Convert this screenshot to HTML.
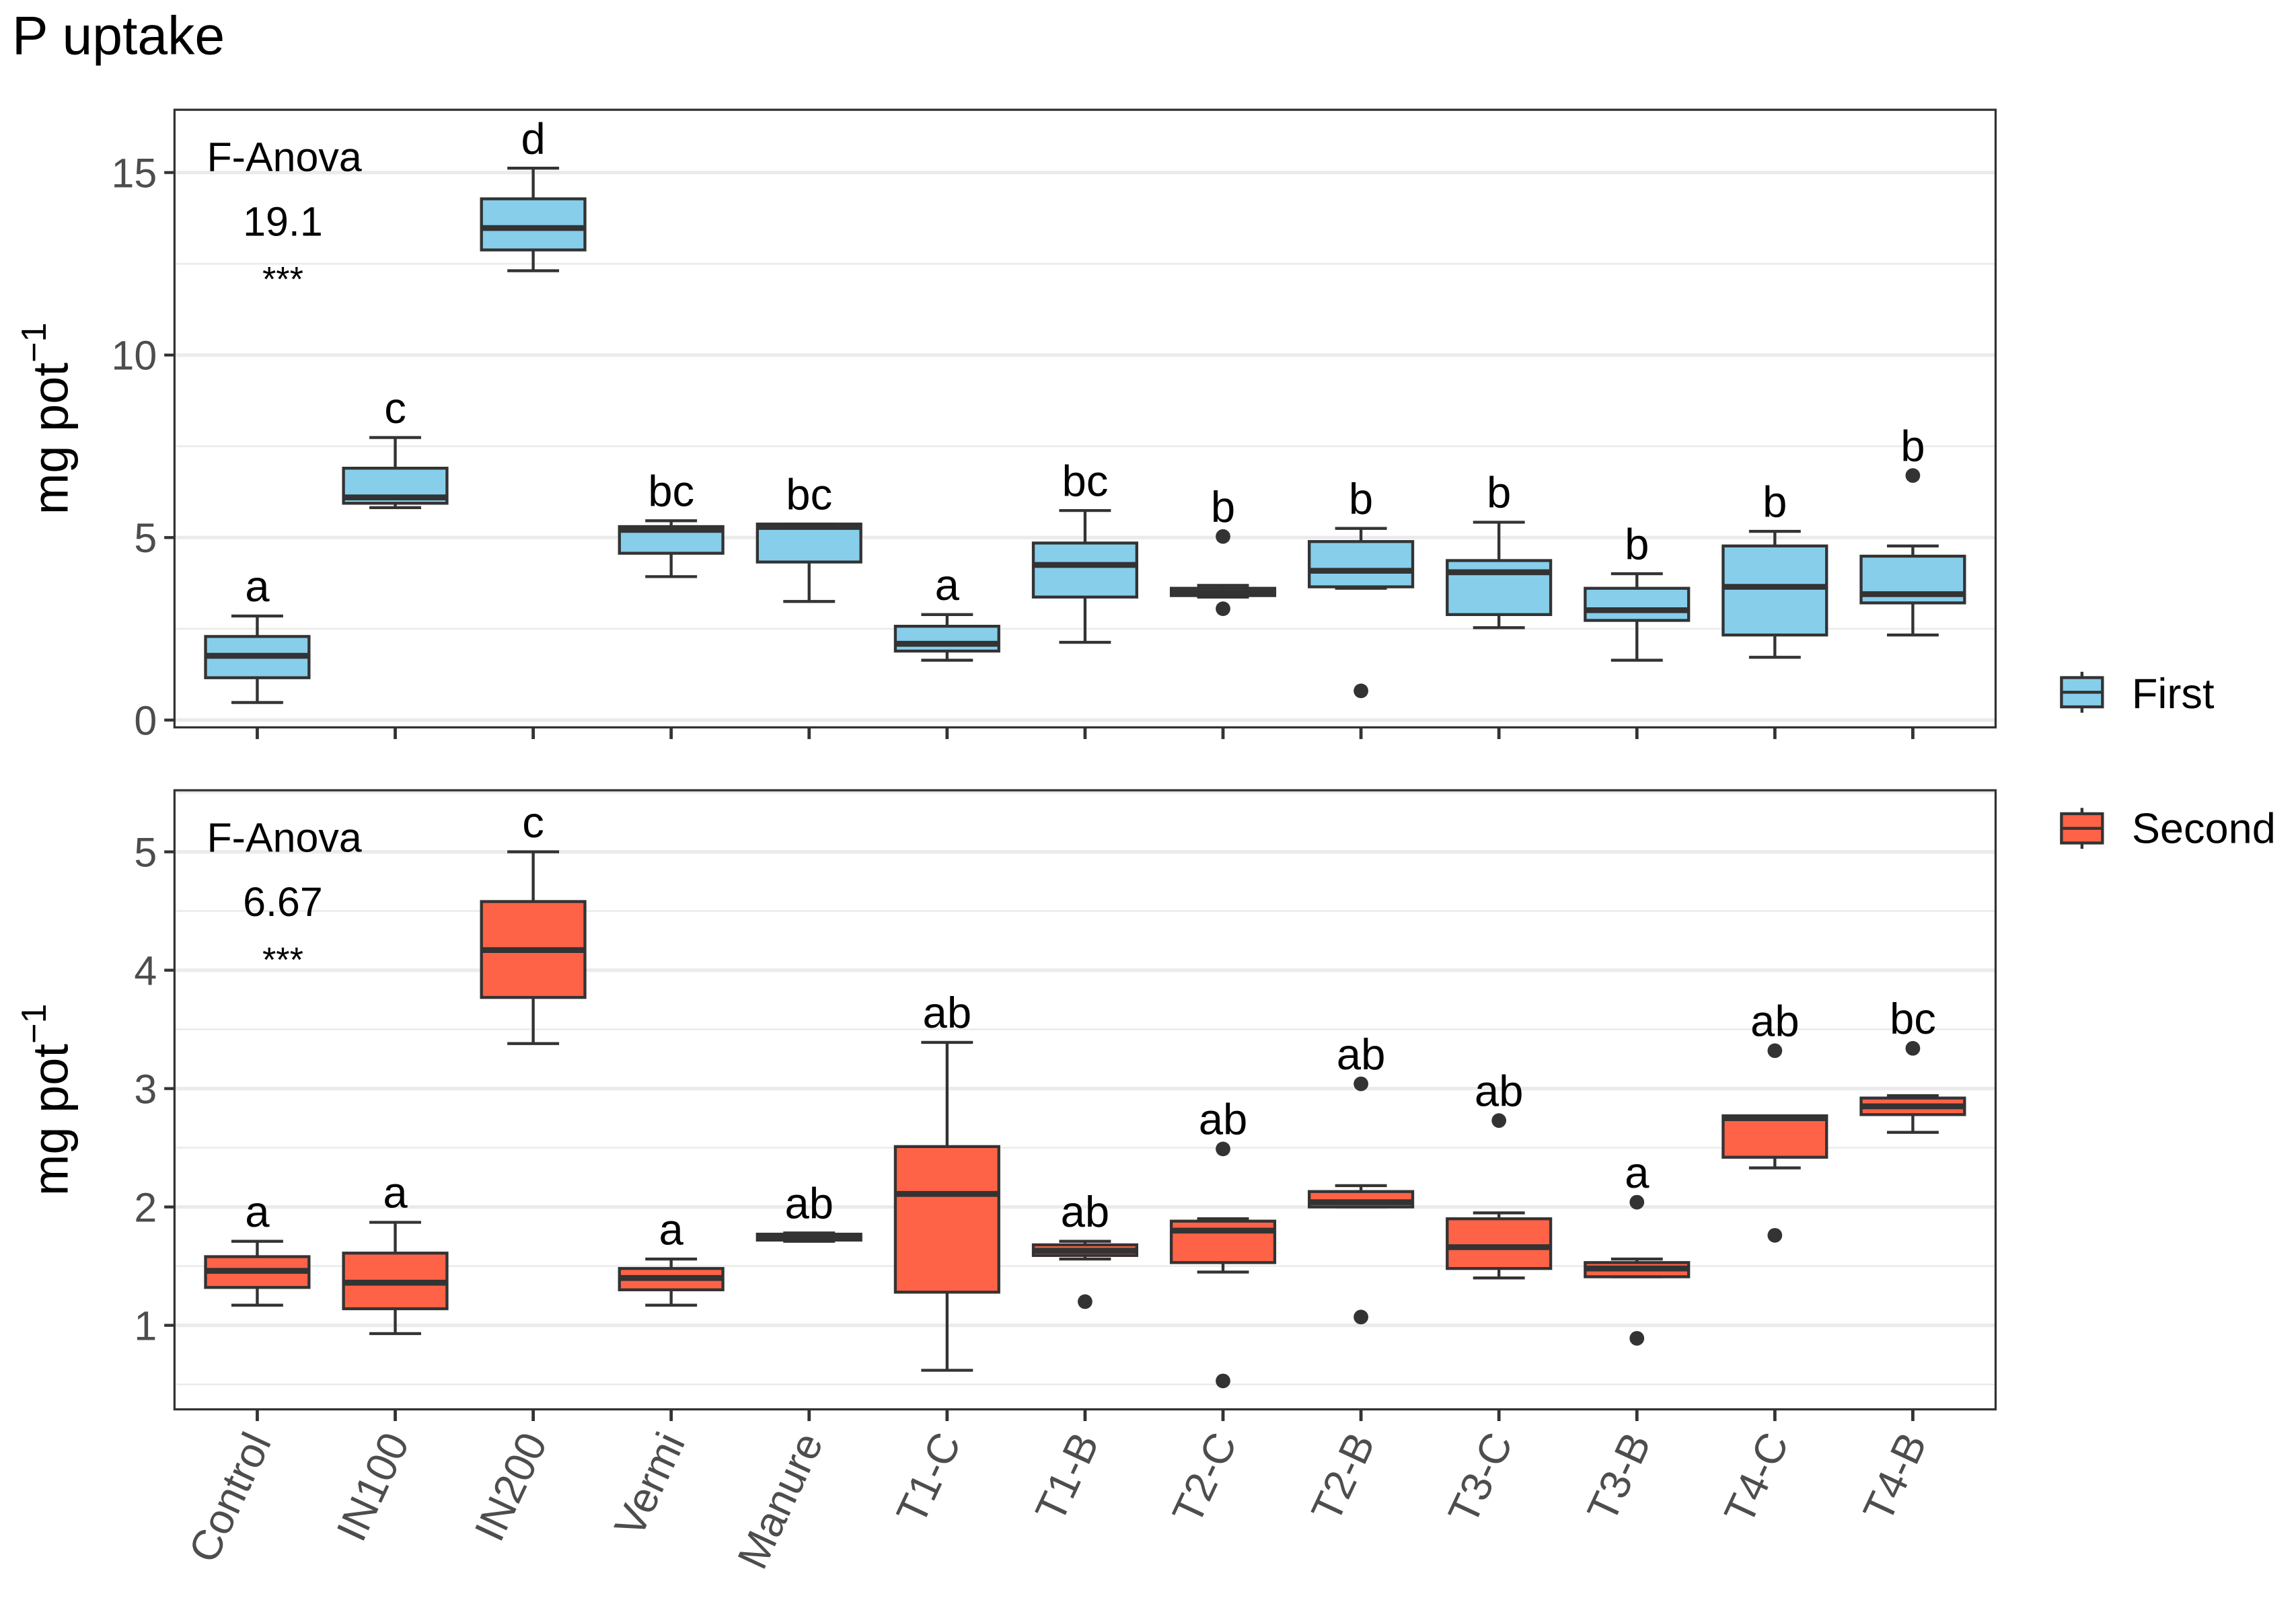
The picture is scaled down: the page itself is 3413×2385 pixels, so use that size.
<!DOCTYPE html>
<html><head><meta charset="utf-8"><style>
html,body{margin:0;padding:0;background:#fff}
svg{display:block;font-family:"Liberation Sans",Arial,sans-serif}
</style></head><body>
<svg id="chart" width="3413" height="2385" viewBox="0 0 1568 1096" xmlns="http://www.w3.org/2000/svg">
<text x="8" y="37" font-size="37" fill="#000">P uptake</text>
<g id="top"></g>
<g id="bot"></g>
<g>
  <g>
    <line x1="1422" y1="459" x2="1422" y2="487" stroke="#333" stroke-width="2"/>
    <rect x="1408" y="463" width="28" height="20" fill="#87CEEB" stroke="#333" stroke-width="2"/>
    <line x1="1408" y1="473" x2="1436" y2="473" stroke="#333" stroke-width="2"/>
    <text x="1456" y="484" font-size="29">First</text>
  </g>
  <g>
    <line x1="1422" y1="552" x2="1422" y2="580" stroke="#333" stroke-width="2"/>
    <rect x="1408" y="556" width="28" height="20" fill="#FF6347" stroke="#333" stroke-width="2"/>
    <line x1="1408" y1="566" x2="1436" y2="566" stroke="#333" stroke-width="2"/>
    <text x="1456" y="576" font-size="29">Second</text>
  </g>
</g>
</svg>
<script>
const categories=["Control","IN100","IN200","Vermi","Manure","T1-C","T1-B","T2-C","T2-B","T3-C","T3-B","T4-C","T4-B"];
// First season: [lowerWhisker, q1, median, q3, upperWhisker]
const firstLow=[0.48,5.82,12.31,3.93,3.25,1.64,2.13,3.37,3.61,2.53,1.64,1.72,2.33];
const firstQ1=[1.16,5.94,12.88,4.57,4.33,1.89,3.37,3.41,3.65,2.89,2.73,2.33,3.21];
const firstMed=[1.76,6.1,13.48,5.21,5.29,2.09,4.25,3.49,4.09,4.05,3.01,3.65,3.45];
const firstQ3=[2.29,6.9,14.28,5.3,5.37,2.57,4.85,3.61,4.89,4.37,3.61,4.77,4.49];
const firstHigh=[2.85,7.74,15.12,5.46,5.37,2.89,5.74,3.69,5.25,5.42,4.01,5.17,4.77];
const firstOutliers=[[],[],[],[],[],[],[],[5.03,3.05],[0.8],[],[],[],[6.7]];
const firstLetters=["a","c","d","bc","bc","a","bc","b","b","b","b","b","b"];
const firstTicks=[0,5,10,15];
// Second season
const secondLow=[1.17,0.93,3.38,1.17,1.71,0.62,1.56,1.45,2.0,1.4,1.41,2.33,2.63];
const secondQ1=[1.32,1.14,3.77,1.30,1.72,1.28,1.59,1.53,2.0,1.48,1.41,2.42,2.78];
const secondMed=[1.46,1.36,4.17,1.40,1.74,2.11,1.63,1.8,2.04,1.66,1.48,2.75,2.85];
const secondQ3=[1.58,1.61,4.58,1.48,1.77,2.51,1.68,1.88,2.13,1.9,1.53,2.77,2.92];
const secondHigh=[1.71,1.87,5.0,1.56,1.78,3.39,1.71,1.9,2.18,1.95,1.56,2.76,2.94];
const secondOutliers=[[],[],[],[],[],[],[1.2],[2.49,0.53],[3.04,1.07],[2.73],[2.04,0.89],[3.32,1.76],[3.34]];
const secondLetters=["a","a","c","a","ab","ab","ab","ab","ab","ab","a","ab","bc"];
const secondTicks=[1,2,3,4,5];

const NS="http://www.w3.org/2000/svg";
function mk(tag,attrs,parent){const e=document.createElementNS(NS,tag);for(const k in attrs)e.setAttribute(k,attrs[k]);parent.appendChild(e);return e;}
const X0=119,X1=1363,step=(X1-X0)/(categories.length+0.2);
function xs(i){return X0+step*(0.6+i);}

function panel(g,y0,y1,vmin,vmax,ticks,minorStep,low,q1,med,q3,high,outs,letters,fill,anova,showX){
  const ys=v=>y1-(v-vmin)/(vmax-vmin)*(y1-y0);
  for(let v=Math.ceil(vmin/minorStep)*minorStep;v<=vmax;v+=minorStep){
    const l=mk('line',{x1:X0,x2:X1,y1:ys(v),y2:ys(v),stroke:'#ebebeb','stroke-width':1.2},g);
    
    
  }
  ticks.forEach(t=>{
    const l=mk('line',{x1:X0,x2:X1,y1:ys(t),y2:ys(t),stroke:'#ebebeb','stroke-width':2.4},g);
    
    
    mk('line',{x1:X0-7,x2:X0,y1:ys(t),y2:ys(t),stroke:'#333','stroke-width':2},g);
    const tx=mk('text',{x:X0-12,y:ys(t)+10,'font-size':28,fill:'#4d4d4d','text-anchor':'end'},g);
    tx.textContent=t;
    
    
  });
  categories.forEach((c,i)=>{
    const x=xs(i),w=step*0.75;
    mk('line',{x1:x,x2:x,y1:y1,y2:y1+8,stroke:'#333','stroke-width':2.2},g);
    const bg=mk('g',{},g);
    
    
    mk('line',{x1:x,x2:x,y1:ys(high[i]),y2:ys(q3[i]),stroke:'#333','stroke-width':2},bg);
    mk('line',{x1:x,x2:x,y1:ys(q1[i]),y2:ys(low[i]),stroke:'#333','stroke-width':2},bg);
    mk('line',{x1:x-w/4,x2:x+w/4,y1:ys(high[i]),y2:ys(high[i]),stroke:'#333','stroke-width':2},bg);
    mk('line',{x1:x-w/4,x2:x+w/4,y1:ys(low[i]),y2:ys(low[i]),stroke:'#333','stroke-width':2},bg);
    mk('rect',{x:x-w/2,y:ys(q3[i]),width:w,height:Math.max(ys(q1[i])-ys(q3[i]),1),fill:fill,stroke:'#333','stroke-width':2},bg);
    mk('line',{x1:x-w/2,x2:x+w/2,y1:ys(med[i]),y2:ys(med[i]),stroke:'#333','stroke-width':4},bg);
    let top=ys(high[i]);
    outs[i].forEach(o=>{
      const c2=mk('circle',{cx:x,cy:ys(o),r:5,fill:'#333'},g);
      
      
      top=Math.min(top,ys(o));
    });
    const lt=mk('text',{x:x,y:top-10,'font-size':30,'text-anchor':'middle',fill:'#000'},g);
    lt.textContent=letters[i];
    
    
    if(showX){
      const xl=mk('text',{x:0,y:0,'font-size':29,fill:'#4d4d4d','text-anchor':'end',transform:`translate(${x+10},${y1+22}) rotate(-65)`},g);
      xl.textContent=c;
      
      
    }
  });
  const br=mk('rect',{x:X0,y:y0,width:X1-X0,height:y1-y0,fill:'none',stroke:'#333','stroke-width':1.5},g);
  
  
  const an=[["F-Anova",0],[anova,44],["***",82]];
  an.forEach(([t,dy],k)=>{
    const e=mk('text',{x:k==0?194:193,y:y0+42+dy,'font-size':k==2?24:28,'text-anchor':'middle',fill:'#000'},g);
    e.textContent=t;
    
    
  });
  const yt=mk('text',{x:0,y:0,'font-size':34,'text-anchor':'middle',fill:'#000',transform:`translate(46,${(y0+y1)/2}) rotate(-90)`},g);
  yt.innerHTML='mg pot<tspan dy="-15" font-size="24">−1</tspan>';
  
  
}
panel(document.getElementById('top'),75,497,-0.2,16.72,firstTicks,2.5,firstLow,firstQ1,firstMed,firstQ3,firstHigh,firstOutliers,firstLetters,'#87CEEB','19.1',false);
panel(document.getElementById('bot'),540,963,0.29,5.52,secondTicks,0.5,secondLow,secondQ1,secondMed,secondQ3,secondHigh,secondOutliers,secondLetters,'#FF6347','6.67',true);
</script>
</body></html>
